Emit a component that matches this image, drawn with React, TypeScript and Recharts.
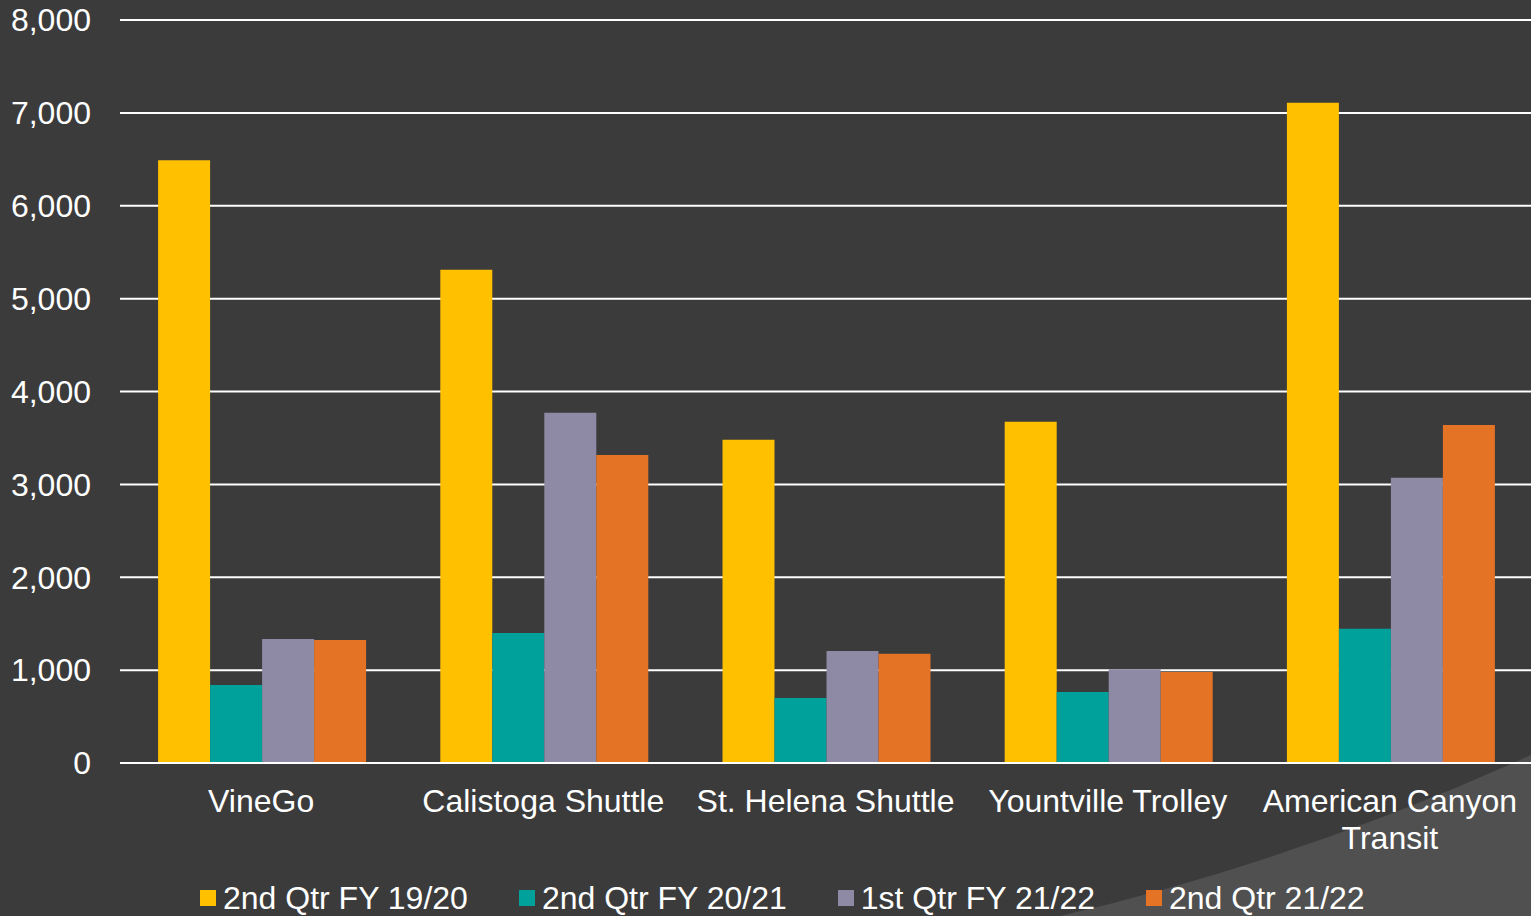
import { BarChart, Bar, XAxis, YAxis, CartesianGrid, Legend } from 'recharts';

const categories = ['VineGo', 'Calistoga Shuttle', 'St. Helena Shuttle', 'Yountville Trolley', 'American Canyon Transit'];
const q2fy1920 = [6490, 5310, 3480, 3675, 7110];
const q2fy2021 = [840, 1400, 700, 765, 1445];
const q1fy2122 = [1335, 3770, 1205, 1010, 3070];
const q2fy2122 = [1325, 3315, 1175, 980, 3640];
const yTicks = [0, 1000, 2000, 3000, 4000, 5000, 6000, 7000, 8000];

const series = [
  { key: 'a', name: '2nd Qtr FY 19/20', color: '#FFC000' },
  { key: 'b', name: '2nd Qtr FY 20/21', color: '#00A09B' },
  { key: 'c', name: '1st Qtr FY 21/22', color: '#8E8AA6' },
  { key: 'd', name: '2nd Qtr 21/22', color: '#E57325' },
];

const data = categories.map((name, i) => ({
  name,
  a: q2fy1920[i],
  b: q2fy2021[i],
  c: q1fy2122[i],
  d: q2fy2122[i],
}));

const FONT = '"Liberation Sans", Arial, sans-serif';
const FS = 32;

// wrap a label into lines that fit maxW, measured with a canvas
let ctx: CanvasRenderingContext2D | null = null;
function wrap(label: string, maxW: number): string[] {
  if (!ctx) {
    ctx = document.createElement('canvas').getContext('2d');
    if (ctx) ctx.font = `${FS}px ${FONT}`;
  }
  const words = label.split(' ');
  const lines: string[] = [];
  let cur = '';
  for (const w of words) {
    const test = cur ? cur + ' ' + w : w;
    if (ctx && ctx.measureText(test).width > maxW && cur) {
      lines.push(cur);
      cur = w;
    } else {
      cur = test;
    }
  }
  if (cur) lines.push(cur);
  return lines;
}

const CategoryTick = (props: any) => {
  const { x, y, payload } = props;
  const lines = wrap(String(payload.value), 275);
  return (
    <text x={x} y={y} textAnchor="middle" fill="#ffffff" fontSize={FS} fontFamily={FONT}>
      {lines.map((l, i) => (
        <tspan key={i} x={x} dy={i === 0 ? 49 : 37}>
          {l}
        </tspan>
      ))}
    </text>
  );
};

const LegendContent = () => (
  <div style={{ display: 'flex', justifyContent: 'flex-start', paddingLeft: 200, paddingTop: 4, fontFamily: FONT, fontSize: FS, color: '#fff' }}>
    {series.map((s) => (
      <div key={s.key} style={{ display: 'flex', alignItems: 'center', marginRight: 51, lineHeight: '36px', whiteSpace: 'nowrap' }}>
        <span style={{ display: 'inline-block', width: 16, height: 16, background: s.color, marginRight: 7 }} />
        <span>{s.name}</span>
      </div>
    ))}
  </div>
);

export default function App() {
  return (
    <div style={{ position: 'absolute', left: 0, top: 0, width: 1531, height: 916, background: '#3b3b3b', overflow: 'hidden' }}>
      <svg width={1531} height={916} style={{ position: 'absolute', left: 0, top: 0 }}>
        <path d="M1060,916 Q1300,860 1531,755 L1531,916 Z" fill="#505050" />
      </svg>
      <div style={{ position: 'absolute', left: 0, top: 0 }}>
        <BarChart
          width={1531}
          height={916}
          data={data}
          margin={{ top: 20, right: 0, bottom: 0, left: 0 }}
          barCategoryGap="13.5%"
          barGap={0}
        >
          <CartesianGrid vertical={false} stroke="#ffffff" strokeWidth={2} />
          <XAxis
            dataKey="name"
            axisLine={{ stroke: '#ffffff', strokeWidth: 2 }}
            tickLine={false}
            tickSize={0}
            tickMargin={0}
            height={113}
            interval={0}
            tick={<CategoryTick />}
          />
          <YAxis
            width={120}
            domain={[0, 8000]}
            ticks={yTicks}
            axisLine={false}
            tickLine={false}
            tickMargin={23}
            tickFormatter={(v: number) => v.toLocaleString('en-US')}
            tick={{ fill: '#ffffff', fontSize: FS, fontFamily: FONT }}
          />
          <Legend verticalAlign="bottom" height={40} content={<LegendContent />} />
          {series.map((s) => (
            <Bar key={s.key} dataKey={s.key} name={s.name} fill={s.color} isAnimationActive={false} />
          ))}
        </BarChart>
      </div>
    </div>
  );
}
